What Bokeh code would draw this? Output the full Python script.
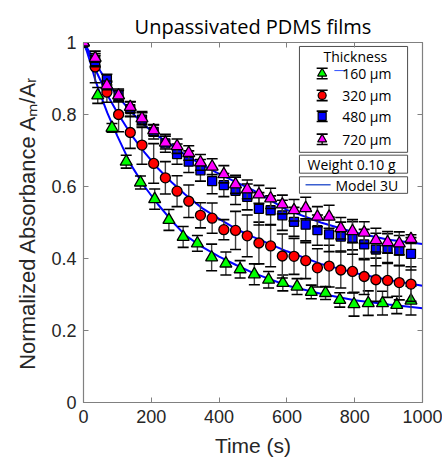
from bokeh.plotting import figure
from bokeh.models import Range1d, LinearAxis, FixedTicker, CustomJSTickFormatter, Label, Title
from bokeh.embed import file_html
from bokeh.resources import INLINE

# ---------------- data ----------------
t_160 = [0, 42, 84, 126, 168, 210, 252, 294, 336, 378, 420, 462, 504, 546, 588, 630,
         672, 714, 756, 798, 840, 882, 924, 966]
a_160 = [1.0, 0.853, 0.763, 0.669, 0.611, 0.565, 0.507, 0.460, 0.442, 0.403, 0.386, 0.370,
         0.356, 0.341, 0.332, 0.322, 0.307, 0.304, 0.285, 0.273, 0.276, 0.276, 0.271, 0.283]
e_160 = [0.005, 0.022, 0.012, 0.018, 0.018, 0.028, 0.029, 0.029, 0.022, 0.037, 0.032, 0.024,
         0.029, 0.023, 0.022, 0.022, 0.019, 0.018, 0.020, 0.033, 0.034, 0.033, 0.024, 0.040]

t_other = [0, 34.5, 69, 103.5, 138, 172.5, 207, 241.5, 276, 310.5, 345, 379.5, 414, 448.5,
           483, 517.5, 552, 586.5, 621, 655.5, 690, 724.5, 759, 793.5, 828, 862.5, 897,
           931.5, 966]
a_320 = [1.0, 0.932, 0.862, 0.800, 0.750, 0.715, 0.664, 0.624, 0.587, 0.559, 0.520, 0.512,
         0.480, 0.478, 0.463, 0.443, 0.435, 0.407, 0.406, 0.394, 0.374, 0.379, 0.368, 0.364,
         0.350, 0.341, 0.339, 0.333, 0.329]
e_320 = [0.005, 0.044, 0.028, 0.048, 0.044, 0.053, 0.055, 0.045, 0.043, 0.045, 0.035, 0.042,
         0.028, 0.053, 0.058, 0.058, 0.058, 0.061, 0.050, 0.050, 0.053, 0.058, 0.050, 0.060,
         0.050, 0.060, 0.047, 0.048, 0.048]
a_480 = [1.0, 0.948, 0.897, 0.853, 0.815, 0.786, 0.752, 0.720, 0.690, 0.669, 0.645, 0.615,
         0.604, 0.588, 0.571, 0.538, 0.534, 0.520, 0.502, 0.494, 0.479, 0.467, 0.461, 0.457,
         0.439, 0.425, 0.429, 0.422, 0.413]
e_480 = [0.005, 0.015, 0.015, 0.018, 0.020, 0.022, 0.020, 0.025, 0.028, 0.030, 0.030, 0.035,
         0.032, 0.038, 0.036, 0.045, 0.040, 0.042, 0.040, 0.045, 0.042, 0.048, 0.040, 0.045,
         0.042, 0.045, 0.040, 0.042, 0.045]
a_720 = [1.0, 0.957, 0.881, 0.853, 0.821, 0.789, 0.756, 0.722, 0.712, 0.693, 0.667, 0.655,
         0.634, 0.606, 0.592, 0.578, 0.567, 0.550, 0.534, 0.540, 0.516, 0.516, 0.484, 0.476,
         0.472, 0.451, 0.445, 0.442, 0.454]
e_720 = [0.005, 0.012, 0.012, 0.014, 0.015, 0.016, 0.015, 0.018, 0.020, 0.020, 0.022, 0.022,
         0.024, 0.025, 0.026, 0.025, 0.028, 0.026, 0.030, 0.030, 0.028, 0.032, 0.030, 0.032,
         0.030, 0.033, 0.030, 0.032, 0.012]

model_t = [0, 10, 20, 35, 50, 70, 100, 140, 180, 220, 260, 300, 350, 400, 450, 500, 600,
           700, 800, 900, 1000]
model_160 = [1.0, 0.975, 0.945, 0.895, 0.855, 0.805, 0.74, 0.66, 0.60, 0.55, 0.505, 0.465,
             0.432, 0.405, 0.382, 0.36, 0.325, 0.302, 0.284, 0.272, 0.262]
model_320 = [1.0, 0.98, 0.96, 0.925, 0.895, 0.855, 0.805, 0.745, 0.695, 0.65, 0.612, 0.578,
             0.54, 0.51, 0.482, 0.46, 0.42, 0.385, 0.36, 0.34, 0.324]
model_thick = [1.0, 0.985, 0.97, 0.945, 0.92, 0.89, 0.852, 0.808, 0.77, 0.74, 0.715, 0.688,
               0.66, 0.635, 0.612, 0.59, 0.535, 0.50, 0.472, 0.452, 0.44]

series_labels = ["160 \u00b5m", "320 \u00b5m", "480 \u00b5m", "720 \u00b5m"]
x_ticks = [0, 200, 400, 600, 800, 1000]
y_ticks = [0, 0.2, 0.4, 0.6, 0.8, 1.0]

# ---------------- figure ----------------
p = figure(width=442, height=459, output_backend="svg", toolbar_location=None,
           x_range=Range1d(0, 1000), y_range=Range1d(0, 1),
           min_border_left=83, min_border_right=20, min_border_top=42, min_border_bottom=56)
p.background_fill_color = "white"
p.border_fill_color = "white"
p.outline_line_color = "#808080"
p.outline_line_width = 1.2
p.grid.visible = False

AX = "#808080"
TXT = "#262626"
FONT = "Liberation Sans"
SFONT = "Open Sans"

p.title.text = "Unpassivated PDMS films"
p.title.text_font = SFONT
p.title.text_font_size = "20px"
p.title.text_font_style = "normal"
p.title.text_color = "black"
p.title.align = "center"
p.title.offset = 10
p.title.standoff = 5

for ax in (p.xaxis[0], p.yaxis[0]):
    ax.axis_line_color = AX
    ax.major_tick_line_color = AX
    ax.major_tick_in = 5
    ax.major_tick_out = 0
    ax.minor_tick_line_color = None
    ax.major_label_text_font = FONT
    ax.major_label_text_font_size = "18px"
    ax.major_label_text_color = TXT
    ax.major_label_standoff = 7
    ax.axis_label_text_font = FONT
    ax.axis_label_text_font_style = "normal"
    ax.axis_label_text_color = TXT
p.xaxis[0].ticker = FixedTicker(ticks=x_ticks)
p.yaxis[0].ticker = FixedTicker(ticks=y_ticks)
p.yaxis[0].formatter = CustomJSTickFormatter(code="return String(Math.round(tick*10)/10);")
p.xaxis[0].formatter = CustomJSTickFormatter(code="return String(Math.round(tick));")
p.xaxis[0].axis_label = "Time (s)"
p.xaxis[0].axis_label_text_font_size = "21px"
p.xaxis[0].axis_label_standoff = 8

top_ax = LinearAxis(ticker=FixedTicker(ticks=x_ticks),
                    formatter=CustomJSTickFormatter(code="return '';"))
right_ax = LinearAxis(ticker=FixedTicker(ticks=y_ticks),
                      formatter=CustomJSTickFormatter(code="return '';"))
for ax in (top_ax, right_ax):
    ax.axis_line_color = AX
    ax.major_tick_line_color = AX
    ax.major_tick_in = 5
    ax.major_tick_out = 0
    ax.minor_tick_line_color = None
    ax.major_label_text_font_size = "1px"
    ax.major_label_standoff = 0
p.add_layout(top_ax, "above")
p.add_layout(right_ax, "right")

ylab = Title(text="Normalized Absorbance A\u2098/A\u1d63", text_font=FONT,
             text_font_size="22px", text_font_style="normal", text_color=TXT,
             align="center", offset=20, standoff=17)
p.add_layout(ylab, "left")

# ---------------- model curves ----------------
for mv in (model_160, model_320, model_thick):
    p.line(model_t, mv, line_color="#0000ff", line_width=2)

# ---------------- data with error bars ----------------
specs = [
    (t_160, a_160, e_160, "triangle", "#00ff00", 12),
    (t_other, a_320, e_320, "circle", "#ff0000", 10),
    (t_other, a_480, e_480, "square", "#0000ff", 9),
    (t_other, a_720, e_720, "triangle", "#ff00ff", 12),
]
for tt, aa, ee, mk, col, sz in specs:
    lo = [a - e for a, e in zip(aa, ee)]
    hi = [a + e for a, e in zip(aa, ee)]
    p.segment(x0=tt, y0=lo, x1=tt, y1=hi, line_color="#404040", line_width=1.4)
    p.scatter(tt, lo, marker="dash", size=11, line_color="black", line_width=1.6)
    p.scatter(tt, hi, marker="dash", size=11, line_color="black", line_width=1.6)
    p.scatter(tt, aa, marker=mk, size=sz, fill_color=col, line_color="black", line_width=1.3)

# ---------------- legend (drawn) ----------------
BOX = "#4d4d4d"
p.quad(left=[637], right=[956], bottom=[0.695], top=[0.989], fill_color="white",
       line_color=BOX, line_width=1)
p.quad(left=[637], right=[956], bottom=[0.637], top=[0.687], fill_color="white",
       line_color=BOX, line_width=1)
p.quad(left=[637], right=[956], bottom=[0.581], top=[0.627], fill_color="white",
       line_color=BOX, line_width=1)

leg_y = [0.914, 0.853, 0.795, 0.731]
leg_mk = [("triangle", "#00ff00", 9), ("circle", "#ff0000", 8), ("square", "#0000ff", 8),
          ("triangle", "#ff00ff", 9)]
dy = 0.0145
for yy, (mk, col, sz), lab in zip(leg_y, leg_mk, series_labels):
    p.segment(x0=[704], y0=[yy - dy], x1=[704], y1=[yy + dy], line_color="black", line_width=1.3)
    p.scatter([704], [yy - dy], marker="dash", size=11, line_color="black", line_width=1.6)
    p.scatter([704], [yy + dy], marker="dash", size=11, line_color="black", line_width=1.6)
    p.scatter([704], [yy], marker=mk, size=sz, fill_color=col, line_color="black", line_width=1.2)
    p.add_layout(Label(x=763, y=yy, text=lab, text_font=SFONT, text_font_size="14px",
                       text_color="black", text_align="left", text_baseline="middle"))
p.line([740, 772], [0.922, 0.922], line_color="#3050ff", line_width=1)

p.add_layout(Label(x=802, y=0.962, text="Thickness", text_font=SFONT, text_font_size="14px",
                   text_color="black", text_align="center", text_baseline="middle"))
p.add_layout(Label(x=796, y=0.662, text="Weight  0.10 g", text_font=SFONT,
                   text_font_size="14px", text_color="black", text_align="center",
                   text_baseline="middle"))
p.line([655, 729], [0.605, 0.605], line_color="#3a5fd0", line_width=1.6)
p.add_layout(Label(x=743, y=0.604, text="Model 3U", text_font=SFONT, text_font_size="14px",
                   text_color="black", text_align="left", text_baseline="middle"))

open("out.html", "w").write(file_html(p, INLINE))
